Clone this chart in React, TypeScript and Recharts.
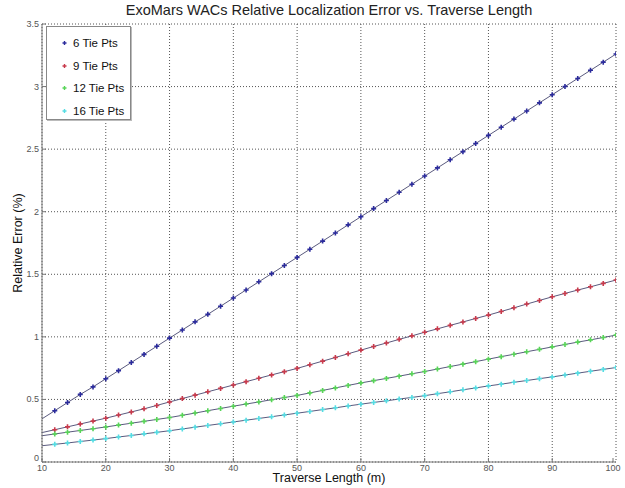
import React from 'react'
import { LineChart, Line, XAxis, YAxis, CartesianGrid } from 'recharts'

// traverse length (m): line starts at 10, markers every 2 m from 12
const traverse = [
  10, 12, 14, 16, 18, 20, 22, 24, 26, 28, 30, 32, 34, 36, 38, 40, 42, 44, 46, 48, 50, 52, 54,
  56, 58, 60, 62, 64, 66, 68, 70, 72, 74, 76, 78, 80, 82, 84, 86, 88, 90, 92, 94, 96, 98, 100,
]

// relative error (%)
const tie6 = [
  0.345, 0.41, 0.475, 0.54, 0.6, 0.665, 0.73, 0.795, 0.86, 0.925, 0.99, 1.055, 1.12, 1.18, 1.245,
  1.31, 1.375, 1.44, 1.505, 1.57, 1.635, 1.7, 1.765, 1.83, 1.895, 1.96, 2.025, 2.09, 2.155, 2.22,
  2.285, 2.35, 2.415, 2.48, 2.545, 2.61, 2.675, 2.74, 2.805, 2.87, 2.935, 3.0, 3.065, 3.13, 3.195, 3.26,
]
const tie9 = [
  0.235, 0.258, 0.281, 0.304, 0.327, 0.35, 0.375, 0.4, 0.425, 0.452, 0.48, 0.507, 0.534, 0.561,
  0.588, 0.615, 0.642, 0.669, 0.696, 0.722, 0.748, 0.777, 0.806, 0.835, 0.865, 0.894, 0.923, 0.951,
  0.98, 1.008, 1.037, 1.064, 1.092, 1.119, 1.147, 1.174, 1.203, 1.232, 1.262, 1.291, 1.32, 1.347,
  1.374, 1.4, 1.427, 1.454,
]
const tie12 = [
  0.21, 0.224, 0.238, 0.252, 0.266, 0.28, 0.295, 0.31, 0.325, 0.34, 0.355, 0.373, 0.391, 0.41,
  0.428, 0.446, 0.463, 0.48, 0.498, 0.515, 0.532, 0.552, 0.572, 0.592, 0.612, 0.632, 0.65, 0.668,
  0.686, 0.705, 0.723, 0.743, 0.763, 0.782, 0.802, 0.822, 0.842, 0.861, 0.881, 0.9, 0.92, 0.939,
  0.958, 0.976, 0.995, 1.014,
]
const tie16 = [
  0.13, 0.141, 0.152, 0.164, 0.175, 0.187, 0.2, 0.212, 0.225, 0.237, 0.25, 0.264, 0.278, 0.292,
  0.306, 0.32, 0.334, 0.348, 0.362, 0.376, 0.39, 0.404, 0.419, 0.433, 0.448, 0.462, 0.476, 0.489,
  0.503, 0.516, 0.53, 0.546, 0.561, 0.577, 0.592, 0.608, 0.622, 0.637, 0.651, 0.666, 0.68, 0.695,
  0.71, 0.725, 0.74, 0.755,
]

const xTicks = [10, 20, 30, 40, 50, 60, 70, 80, 90, 100]
const yTicks = [0, 0.5, 1, 1.5, 2, 2.5, 3, 3.5]

const series = [
  { key: 'p6', name: '6 Tie Pts', color: '#2b2b9c' },
  { key: 'p9', name: '9 Tie Pts', color: '#c83a4c' },
  { key: 'p12', name: '12 Tie Pts', color: '#58d458' },
  { key: 'p16', name: '16 Tie Pts', color: '#55dde3' },
]

const data = traverse.map((t, i) => ({ t, p6: tie6[i], p9: tie9[i], p12: tie12[i], p16: tie16[i] }))

const FONT = '"Liberation Sans", Arial, sans-serif'
const TICK_COLOR = '#555'
const AXIS_COLOR = '#777'

function XTick({ x, y, payload }: any) {
  return (
    <g>
      <line x1={x} x2={x} y1={y} y2={y - 4} stroke={AXIS_COLOR} />
      <text x={x} y={y + 8.5} textAnchor="middle" fontSize={9} fill={TICK_COLOR} fontFamily={FONT}>
        {payload.value}
      </text>
    </g>
  )
}

function YTick({ x, y, payload }: any) {
  return (
    <g>
      <line x1={x} x2={x + 4} y1={y} y2={y} stroke={AXIS_COLOR} />
      <text x={x - 3} y={payload.value === 0 ? y - 1 : y + 3} textAnchor="end" fontSize={9} fill={TICK_COLOR} fontFamily={FONT}>
        {payload.value}
      </text>
    </g>
  )
}

function plusDot(color: string, arm: number) {
  return (props: any) => {
    const { cx, cy, index } = props
    if (index === 0 || cx == null || cy == null) return <g key={`d${index}`} />
    return (
      <path
        key={`d${index}`}
        d={`M${cx - arm},${cy}H${cx + arm}M${cx},${cy - arm}V${cy + arm}`}
        stroke={color}
        strokeWidth={1.6}
        fill="none"
      />
    )
  }
}

export default function App() {
  return (
    <div style={{ position: 'absolute', left: 0, top: 0, width: 625, height: 488, background: '#fff', fontFamily: FONT }}>
      <LineChart width={625} height={488} data={data} margin={{ top: 24, right: 9, bottom: 0, left: 0 }}>
        <CartesianGrid stroke="#555" strokeDasharray="1 2" />
        <XAxis
          type="number"
          dataKey="t"
          domain={[10, 100]}
          ticks={xTicks}
          height={26}
          tickSize={0}
          tickMargin={0}
          tick={<XTick />}
          stroke={AXIS_COLOR}
          allowDataOverflow
        />
        <YAxis
          type="number"
          domain={[0, 3.5]}
          ticks={yTicks}
          width={42}
          tickSize={0}
          tickMargin={0}
          tick={<YTick />}
          stroke={AXIS_COLOR}
          allowDataOverflow
        />
        {series.map(s => (
          <Line
            key={s.key}
            type="linear"
            dataKey={s.key}
            name={s.name}
            stroke="#5a5a7e"
            strokeWidth={1}
            dot={plusDot(s.color, 2.5)}
            activeDot={false}
            isAnimationActive={false}
          />
        ))}
      </LineChart>

      <div style={{ position: 'absolute', left: 0, width: 658, top: 2, textAlign: 'center', fontSize: 14.5, color: '#222' }}>
        ExoMars WACs Relative Localization Error vs. Traverse Length
      </div>
      <div style={{ position: 'absolute', left: 0, width: 658, top: 471, textAlign: 'center', fontSize: 12.5, color: '#111' }}>
        Traverse Length (m)
      </div>
      <div
        style={{
          position: 'absolute',
          left: 18,
          top: 243,
          transform: 'translate(-50%, -50%) rotate(-90deg)',
          whiteSpace: 'nowrap',
          fontSize: 12.5,
          color: '#111',
        }}
      >
        Relative Error (%)
      </div>

      <div
        style={{
          position: 'absolute',
          left: 46,
          top: 26,
          width: 85,
          height: 94,
          boxSizing: 'border-box',
          border: '1px solid #888',
          background: '#fff',
          boxShadow: '1px 1px 0 #bbb',
        }}
      >
        {series.map((s, i) => (
          <div key={s.key} style={{ position: 'absolute', left: 0, top: 8 + i * 22.5, height: 16, display: 'flex', alignItems: 'center' }}>
            <svg width={26} height={16}>
              <path d="M15.5,8H19.5M17.5,6V10" stroke={s.color} strokeWidth={1.4} />
            </svg>
            <span style={{ fontSize: 11.5, color: '#111', whiteSpace: 'nowrap' }}>{s.name}</span>
          </div>
        ))}
      </div>
    </div>
  )
}
